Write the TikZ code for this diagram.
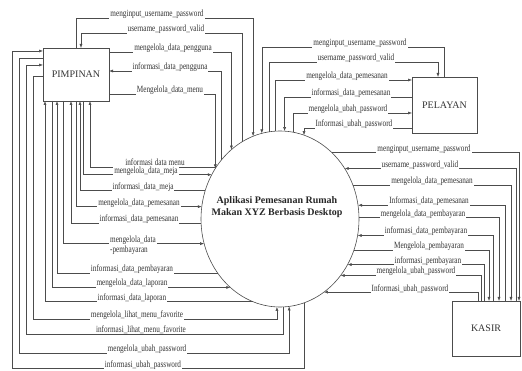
\documentclass[tikz,border=0pt]{standalone}
\usepackage{fontspec}
\setmainfont{Liberation Serif}
\newfontfamily\lblfont[FakeStretch=0.76]{Liberation Serif}
\usetikzlibrary{arrows.meta,shapes.geometric}

\begin{document}
\begin{tikzpicture}[
x=1pt,y=-1pt,
font=\fontsize{10}{12}\selectfont,
flow/.style={draw=black!70, line width=0.5pt, -{Latex[length=4pt,width=3pt]}},
entity/.style={draw=black!70, line width=0.6pt, inner sep=0pt, outer sep=0pt, text=black!80},
lbl/.style={font=\lblfont\fontsize{9.5}{10}\selectfont, text=black!80, fill=white,
  inner xsep=1pt, inner ysep=0pt, anchor=base, yshift=1pt}
]

\useasboundingbox (0,0) rectangle (522,371);

%%%%%%%%%%%%%%%%%%%%%%%%%%%%%%%%%%%%%%%%%%%%%%%%%%%%%%%%%%
% PROCESS
%%%%%%%%%%%%%%%%%%%%%%%%%%%%%%%%%%%%%%%%%%%%%%%%%%%%%%%%%%

\node[
draw=black!70,
ellipse,
line width=0.6pt,
minimum width=158pt,
minimum height=176pt,
inner sep=0pt,
outer sep=0pt
](app) at (280,219) {};

\node[
font=\bfseries\fontsize{10}{12}\selectfont,
align=center,
text=black!85
](apptxt) at (277,207)
{Aplikasi Pemesanan Rumah\\Makan XYZ Berbasis Desktop};

%%%%%%%%%%%%%%%%%%%%%%%%%%%%%%%%%%%%%%%%%%%%%%%%%%%%%%%%%%
% ENTITIES
%%%%%%%%%%%%%%%%%%%%%%%%%%%%%%%%%%%%%%%%%%%%%%%%%%%%%%%%%%

\node[entity, minimum width=66pt, minimum height=53pt](pim) at (76,74.5) {PIMPINAN};
\node[entity, minimum width=65pt, minimum height=56pt](pel) at (444.5,105) {PELAYAN};
\node[entity, minimum width=68pt, minimum height=55pt](kas) at (486,328.5) {KASIR};

%%%%%%%%%%%%%%%%%%%%%%%%%%%%%%%%%%%%%%%%%%%%%%%%%%%%%%%%%%
% PIMPINAN FLOWS
%%%%%%%%%%%%%%%%%%%%%%%%%%%%%%%%%%%%%%%%%%%%%%%%%%%%%%%%%%

\draw[flow] (pim.north) -- (pim.north |- 0,18) -| (app.108);
\draw[flow] (app.116) -- (app.116 |- 0,33) -| ([xshift=5pt]pim.north);
\draw[flow] ([yshift=22.5pt]pim.east) -| (app.125);
\draw[flow] (app.135) |- ([yshift=3.5pt]pim.east);
\draw[flow] ([yshift=-19.5pt]pim.east) -| (app.142);

\draw[flow] (app.141) -| ([xshift=14pt]pim.south);
\draw[flow] ([xshift=7pt]pim.south) |- (app.147);
\draw[flow] (app.159) -| ([xshift=4pt]pim.south);
\draw[flow] (pim.south) |- (app.171);
\draw[flow] (app.183) -| ([xshift=-5pt]pim.south);
\draw[flow] ([xshift=-13pt]pim.south) |- (app.198);
\draw[flow] (app.221) -| ([xshift=-19pt]pim.south);
\draw[flow] ([xshift=-24pt]pim.south) |- (app.234);
\draw[flow] (app.252) -| ([xshift=-31pt]pim.south);

\draw[flow] ([yshift=-1.5pt]pim.west) -| (33,319) -| (app.268);
\draw[flow] (app.272) |- (26,334) |- ([yshift=9.5pt]pim.west);
\draw[flow] ([yshift=16.5pt]pim.west) -| (19,353) -| (app.276);
\draw[flow] (app.286) |- (12,368) |- ([yshift=23.5pt]pim.west);

\node[lbl](tp1) at (157,18) {menginput\_username\_password};
\node[lbl](tp2) at (166,33) {username\_password\_valid};
\node[lbl](tp3) at (173,52) {mengelola\_data\_pengguna};
\node[lbl](tp4) at (170,71) {informasi\_data\_pengguna};
\node[lbl](tp5) at (170,94) {Mengelola\_data\_menu};
\node[lbl](tp6) at (155,167) {informasi data menu};
\node[lbl](tp7) at (146,175) {mengelola\_data\_meja};
\node[lbl](tp8) at (143,191) {informasi\_data\_meja};
\node[lbl](tp9) at (139,207) {mengelola\_data\_pemesanan};
\node[lbl](tp10) at (139,223) {informasi\_data\_pemesanan};
\node[lbl](tp11) at (133,244) {mengelola\_data};
\node[lbl, anchor=north west](tp11b) at ([yshift=-1pt]tp11.south west) {-pembayaran};
\node[lbl](tp12) at (132,273) {informasi\_data\_pembayaran};
\node[lbl](tp13) at (132,287) {mengelola\_data\_laporan};
\node[lbl](tp14) at (132,302) {informasi\_data\_laporan};
\node[lbl](tp15) at (137,319) {mengelola\_lihat\_menu\_favorite};
\node[lbl](tp16) at (141,334) {informasi\_lihat\_menu\_favorite};
\node[lbl](tp17) at (147,353) {mengelola\_ubah\_password};
\node[lbl](tp18) at (143,368) {informasi\_ubah\_password};

%%%%%%%%%%%%%%%%%%%%%%%%%%%%%%%%%%%%%%%%%%%%%%%%%%%%%%%%%%
% PELAYAN FLOWS
%%%%%%%%%%%%%%%%%%%%%%%%%%%%%%%%%%%%%%%%%%%%%%%%%%%%%%%%%%

\draw[flow] (pel.north) -- (pel.north |- 0,47) -| (app.102);
\draw[flow] (app.97) -- (app.97 |- 0,62) -| ([xshift=-6.5pt]pel.north);
\draw[flow] (app.93) |- ([yshift=25pt]pel.west);
\draw[flow] ([yshift=8pt]pel.west) -| (app.87);
\draw[flow] (app.81) |- ([yshift=-8pt]pel.west);
\draw[flow] ([yshift=-23pt]pel.west) -| (app.74);

\node[lbl](te1) at (360,47) {menginput\_username\_password};
\node[lbl](te2) at (356,62) {username\_password\_valid};
\node[lbl](te3) at (347,80) {mengelola\_data\_pemesanan};
\node[lbl](te4) at (351,97) {informasi\_data\_pemesanan};
\node[lbl](te5) at (348,113) {mengelola\_ubah\_password};
\node[lbl](te6) at (354,128) {Informasi\_ubah\_password};

%%%%%%%%%%%%%%%%%%%%%%%%%%%%%%%%%%%%%%%%%%%%%%%%%%%%%%%%%%
% KASIR FLOWS
%%%%%%%%%%%%%%%%%%%%%%%%%%%%%%%%%%%%%%%%%%%%%%%%%%%%%%%%%%

\draw[flow] (app.52) -| ([xshift=33pt]kas.north);
\draw[flow] ([xshift=30pt]kas.north) |- (app.38);
\draw[flow] (app.25) -| ([xshift=25pt]kas.north);
\draw[flow] ([xshift=19pt]kas.north) |- (app.10);
\draw[flow] (app.1) -| ([xshift=13pt]kas.north);
\draw[flow] ([xshift=7pt]kas.north) |- (app.348);
\draw[flow] (app.337) -| ([xshift=3pt]kas.north);
\draw[flow] ([xshift=-2pt]kas.north) |- (app.326);
\draw[flow] ([xshift=-5pt]kas.north) |- (app.317);
\draw[flow] ([xshift=-8pt]kas.north) |- (app.301);

\node[lbl](tk1) at (424,153) {menginput\_username\_password};
\node[lbl](tk2) at (420,169) {username\_password\_valid};
\node[lbl](tk3) at (432,185) {mengelola\_data\_pemesanan};
\node[lbl](tk4) at (429,205) {Informasi\_data\_pemesanan};
\node[lbl](tk5) at (423,218) {mengelola\_data\_pembayaran};
\node[lbl](tk6) at (426,235) {informasi\_data\_pembayaran};
\node[lbl](tk7) at (429,250) {Mengelola\_pembayaran};
\node[lbl](tk8) at (428,265) {informasi\_pembayaran};
\node[lbl](tk9) at (416,275) {mengelola\_ubah\_password};
\node[lbl](tk10) at (410,292) {Informasi\_ubah\_password};

\end{tikzpicture}
\end{document}
